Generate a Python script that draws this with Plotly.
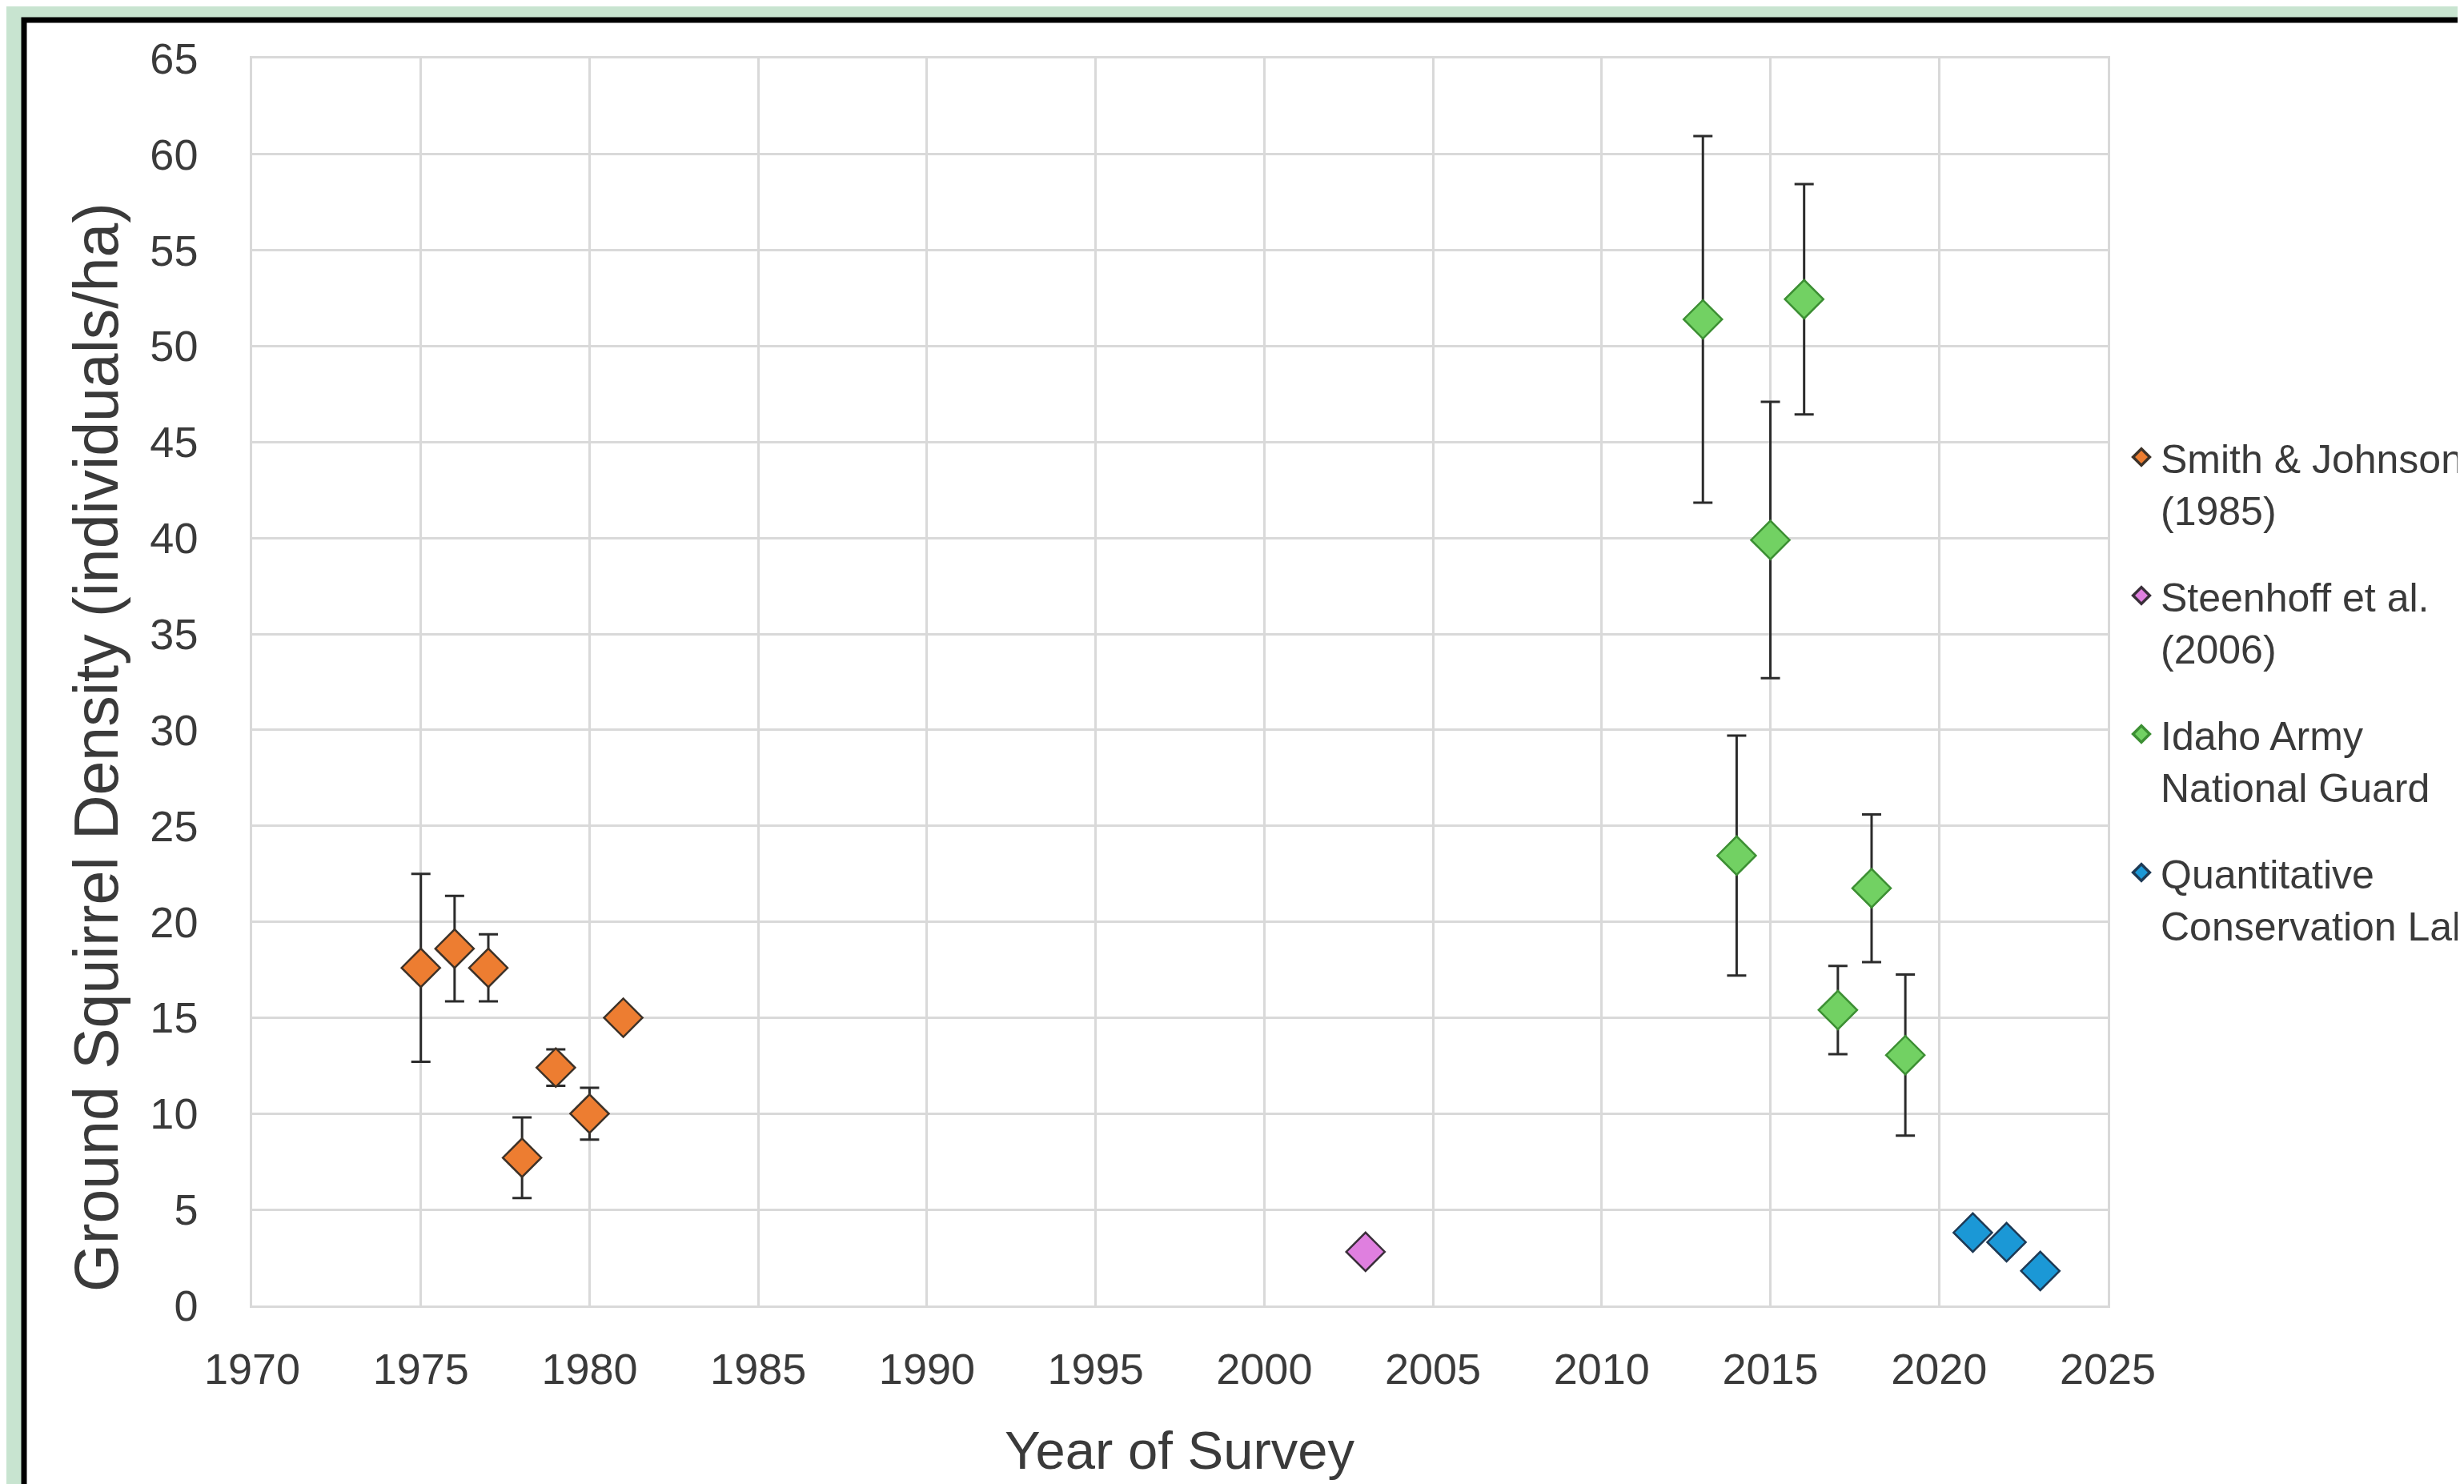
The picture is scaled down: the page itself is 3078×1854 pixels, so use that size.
import plotly.graph_objects as go

# ---------------- data ----------------
smith_years = [1975, 1976, 1977, 1978, 1979, 1980, 1981]
smith_density = [17.6, 18.6, 17.6, 7.7, 12.4, 10.0, 15.0]
smith_err = [4.9, 2.75, 1.75, 2.1, 0.95, 1.35, 0.0]

steenhoff_years = [2003]
steenhoff_density = [2.8]

iang_years = [2013, 2014, 2015, 2016, 2017, 2018, 2019]
iang_density = [51.4, 23.45, 39.9, 52.45, 15.4, 21.75, 13.05]
iang_err = [9.55, 6.25, 7.2, 6.0, 2.3, 3.85, 4.2]

qcl_years = [2021, 2022, 2023]
qcl_density = [3.8, 3.3, 1.8]

series_names = [
    "Smith & Johnson<br>(1985)",
    "Steenhoff et al.<br>(2006)",
    "Idaho Army<br>National Guard",
    "Quantitative<br>Conservation Lab",
]
x_ticks = list(range(1970, 2026, 5))
y_ticks = list(range(0, 66, 5))

# ---------------- layout geometry ----------------
OFF = 8  # page body margin
W, H = 3078, 1854
# target page-pixel positions, converted to figure pixels
L, R, T, B = 315 - OFF, 2633 - OFF, 73 - OFF, 1631 - OFF
pw, ph = R - L, B - T


def px_x(x):
    return (x - OFF - L) / pw


def px_y(y):
    return (B - (y - OFF)) / ph


GREEN_BG = "#C8E4D0"
TXT = "#3a3a3a"
ERRC = "#2b2b2b"
MSIZE = 37

fig = go.Figure()


def add_series(xs, ys, name, fill, edge, err=None, grp="g"):
    kw = {}
    if err is not None:
        kw["error_y"] = dict(type="data", array=err, visible=True,
                             color=ERRC, thickness=3, width=12)
    fig.add_trace(go.Scatter(
        x=xs, y=ys, name=name, mode="markers", legendgroup=grp, showlegend=False,
        marker=dict(symbol="diamond", size=MSIZE, color=fill,
                    line=dict(color=edge, width=2.5)),
        **kw))
    # legend entry (no data points, only the legend symbol)
    fig.add_trace(go.Scatter(
        x=[None], y=[None], name=name, mode="markers", legendgroup=grp, showlegend=True,
        marker=dict(symbol="diamond", size=16, color=fill,
                    line=dict(color=edge, width=3.5))))


add_series(smith_years, smith_density, series_names[0], "#ED7D31", "#3d3228", smith_err, "a")
add_series(steenhoff_years, steenhoff_density, series_names[1], "#DF7FDF", "#3a2f3a", None, "b")
add_series(iang_years, iang_density, series_names[2], "#72D163", "#3C8F33", iang_err, "c")
add_series(qcl_years, qcl_density, series_names[3], "#1B98D6", "#1E3A55", None, "d")

tickfont = dict(family="Liberation Sans, Arial, sans-serif", size=54, color=TXT)
gridc = "#D9D9D9"

fig.update_xaxes(range=[1970, 2025], tickvals=x_ticks, ticktext=[str(v) for v in x_ticks],
                 showgrid=True, gridcolor=gridc, gridwidth=2.5, zeroline=False,
                 showline=True, linecolor=gridc, linewidth=2.5, mirror=True,
                 ticks="", tickfont=tickfont, ticklabelstandoff=30)
fig.update_yaxes(range=[0, 65], tickvals=y_ticks, ticktext=[str(v) for v in y_ticks],
                 showgrid=True, gridcolor=gridc, gridwidth=2.5, zeroline=False,
                 showline=True, linecolor=gridc, linewidth=2.5, mirror=True,
                 ticks="", tickfont=tickfont, ticklabelstandoff=54)

# white panel with black frame (cut off at right/bottom like the reference)
fig.add_shape(type="rect", xref="paper", yref="paper", layer="below",
              x0=px_x(30), x1=px_x(3140), y0=px_y(1920), y1=px_y(25),
              fillcolor="white", line=dict(color="black", width=7))

fig.add_annotation(xref="paper", yref="paper", x=px_x(120), y=px_y(934),
                   text="Ground Squirrel Density (individuals/ha)", textangle=-90,
                   showarrow=False, xanchor="center", yanchor="middle",
                   font=dict(family="Liberation Sans, Arial, sans-serif", size=77, color=TXT))
fig.add_annotation(xref="paper", yref="paper", x=0.5, y=px_y(1772),
                   text="Year of Survey", showarrow=False,
                   xanchor="center", yanchor="top",
                   font=dict(family="Liberation Sans, Arial, sans-serif", size=67, color=TXT))

fig.update_layout(
    width=W, height=H,
    margin=dict(l=L, r=W - R, t=T, b=H - B, autoexpand=False),
    paper_bgcolor=GREEN_BG, plot_bgcolor="white",
    showlegend=True,
    legend=dict(x=px_x(2651), y=px_y(532), xanchor="left", yanchor="top",
                bgcolor="rgba(0,0,0,0)", valign="top", tracegroupgap=40,
                itemwidth=38,
                font=dict(family="Liberation Sans, Arial, sans-serif", size=50, color=TXT)),
)

fig.write_html("out.html")
